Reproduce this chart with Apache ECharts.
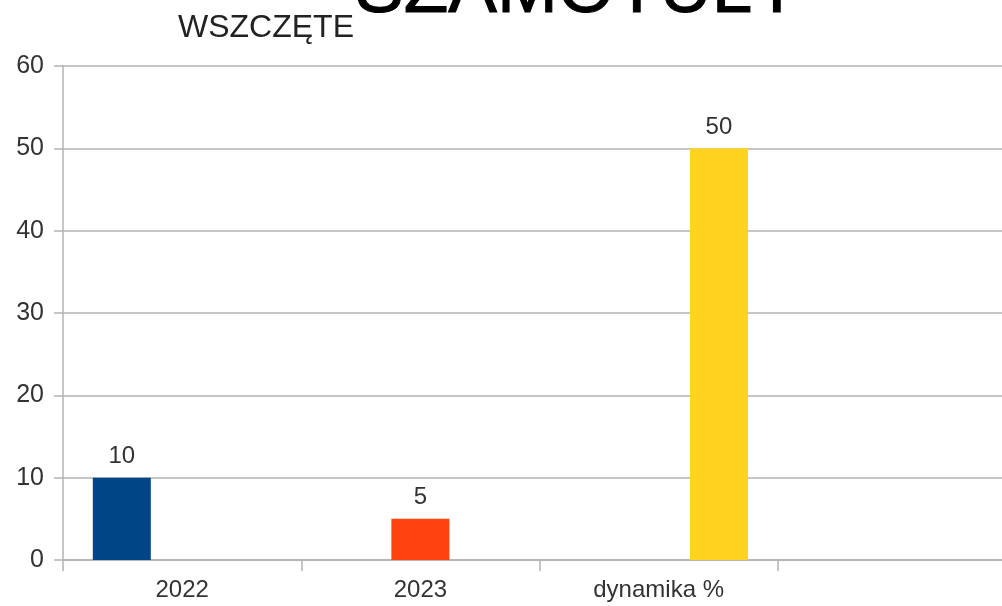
<!DOCTYPE html>
<html lang="pl">

<head>
    <meta charset="UTF-8">
    <title>SZAMOTUŁY</title>
    <script src="https://cdn.jsdelivr.net/npm/echarts@6/dist/echarts.min.js"></script>
    <style>
        html, body { margin: 0; padding: 0; background: #fff; }
    </style>
</head>

<body>
    <div id="chart" style="width:1002px;height:606px;"></div>
</body>
<script>
    // kategorie i wartości
    const categories = ['2022', '2023', 'dynamika %', ''];
    const val2022 = [10, '-', '-', '-'];
    const val2023 = ['-', 5, '-', '-'];
    const valDyn = ['-', '-', 50, '-'];
    const yTicks = { min: 0, max: 60, interval: 10 };

    // paleta LibreOffice
    const COLORS = ['#004586', '#ff420e', '#ffd320'];

    var chart = echarts.init(document.getElementById('chart'));

    const labelStyle = {
        show: true,
        position: 'top',
        distance: 9,
        fontSize: 24,
        color: '#333',
        fontFamily: 'Liberation Sans'
    };

    function bar(name, data, color) {
        return {
            name: name,
            type: 'bar',
            data: data,
            barWidth: 58,
            barGap: '4%',
            itemStyle: { color: color },
            label: labelStyle
        };
    }

    var options = {
        backgroundColor: '#fff',
        animation: false,
        textStyle: { fontFamily: 'Liberation Sans' },
        title: [{
            text: 'SZAMOTUŁY',
            left: 355,
            top: -45,
            padding: 0,
            textStyle: { fontSize: 73, fontWeight: 'normal', color: '#000', textBorderColor: '#000', textBorderWidth: 1 }
        }, {
            text: 'WSZCZĘTE',
            left: 178,
            top: 12,
            padding: 0,
            textStyle: { fontSize: 32, fontWeight: 'normal', color: '#222' }
        }],
        grid: {
            left: 63,
            right: -14,
            top: 66,
            bottom: 46,
            outerBoundsMode: 'none'
        },
        xAxis: {
            type: 'category',
            data: categories,
            axisLine: { lineStyle: { color: '#b3b3b3', width: 1.5 } },
            axisTick: { show: true, length: 11, lineStyle: { color: '#b3b3b3', width: 1.5 } },
            axisLabel: { fontSize: 24, color: '#333', margin: 18 }
        },
        yAxis: {
            type: 'value',
            min: yTicks.min,
            max: yTicks.max,
            interval: yTicks.interval,
            axisLine: { show: true, lineStyle: { color: '#b3b3b3', width: 1.5 } },
            axisTick: { show: true, length: 9, lineStyle: { color: '#b3b3b3', width: 1.5 } },
            splitLine: { lineStyle: { color: '#b3b3b3', width: 1.5 } },
            axisLabel: { fontSize: 25, color: '#333', margin: 19 }
        },
        series: [
            bar('2022', val2022, COLORS[0]),
            bar('2023', val2023, COLORS[1]),
            bar('dynamika %', valDyn, COLORS[2])
        ]
    };

    chart.setOption(options);
</script>

</html>
